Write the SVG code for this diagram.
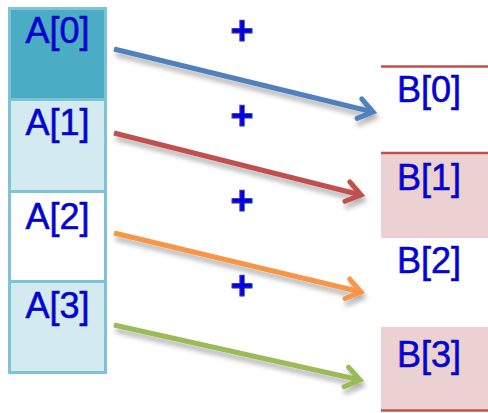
<svg xmlns="http://www.w3.org/2000/svg" width="488" height="413" viewBox="0 0 488 413">
<style>
.lbl{font-family:"Liberation Sans",Arial,sans-serif;font-size:36px;fill:#0000f0;stroke:#14147a;stroke-width:0.6}
.plus{font-family:"Liberation Sans",Arial,sans-serif;font-size:40px;font-weight:bold;fill:#0000f0;stroke:#3a3a7a;stroke-width:0.8;text-anchor:middle}
.cell{stroke:#7cc4d5;stroke-width:3}
.rline{stroke:#c0504d;stroke-width:2.5}
.arr{fill:none;stroke-width:5;filter:url(#sh)}
</style>
<defs>
<filter id="sh" x="-10%" y="-50%" width="120%" height="200%">
<feDropShadow dx="2" dy="5" stdDeviation="2.5" flood-color="#000" flood-opacity="0.3"/>
</filter>
<marker id="mb" markerUnits="userSpaceOnUse" viewBox="-20 -14 24 28" refX="0" refY="0" markerWidth="24" markerHeight="28" orient="auto"><path d="M-14,-10 L0,0 L-14,10" fill="none" stroke="#4f81bd" stroke-width="5" stroke-linecap="round"/></marker>
<marker id="mr" markerUnits="userSpaceOnUse" viewBox="-20 -14 24 28" refX="0" refY="0" markerWidth="24" markerHeight="28" orient="auto"><path d="M-14,-10 L0,0 L-14,10" fill="none" stroke="#c0504d" stroke-width="5" stroke-linecap="round"/></marker>
<marker id="mo" markerUnits="userSpaceOnUse" viewBox="-20 -14 24 28" refX="0" refY="0" markerWidth="24" markerHeight="28" orient="auto"><path d="M-14,-10 L0,0 L-14,10" fill="none" stroke="#f79646" stroke-width="5" stroke-linecap="round"/></marker>
<marker id="mg" markerUnits="userSpaceOnUse" viewBox="-20 -14 24 28" refX="0" refY="0" markerWidth="24" markerHeight="28" orient="auto"><path d="M-14,-10 L0,0 L-14,10" fill="none" stroke="#9bbb59" stroke-width="5" stroke-linecap="round"/></marker>
</defs>
<rect width="488" height="413" fill="#fff"/>
<g id="A0"><rect class="cell" x="9.5" y="8.5" width="96" height="91" fill="#4bacc6"/><text class="lbl" x="57.5" y="43" text-anchor="middle">A[0]</text></g>
<g id="A1"><rect class="cell" x="9.5" y="99.5" width="96" height="92" fill="#d3eaf1"/><text class="lbl" x="57.5" y="135" text-anchor="middle">A[1]</text></g>
<g id="A2"><rect class="cell" x="9.5" y="191.5" width="96" height="90" fill="#ffffff"/><text class="lbl" x="57.5" y="229" text-anchor="middle">A[2]</text></g>
<g id="A3"><rect class="cell" x="9.5" y="281.5" width="96" height="91" fill="#d3eaf1"/><text class="lbl" x="57.5" y="318" text-anchor="middle">A[3]</text></g>
<g id="B0"><line class="rline" x1="381" y1="66.5" x2="488" y2="66.5"/><text class="lbl" x="397" y="102">B[0]</text></g>
<g id="B1"><rect x="381" y="153" width="107" height="85" fill="#ecd1d2"/><line class="rline" x1="381" y1="153" x2="488" y2="153"/><text class="lbl" x="397" y="190">B[1]</text></g>
<g id="B2"><text class="lbl" x="397" y="273">B[2]</text></g>
<g id="B3"><rect x="381" y="327" width="107" height="84" fill="#ecd1d2"/><line class="rline" x1="381" y1="410.5" x2="488" y2="410.5"/><text class="lbl" x="397" y="367">B[3]</text></g>
<g id="plus"><text class="plus" x="242" y="44">+</text><text class="plus" x="242" y="129">+</text><text class="plus" x="242" y="214">+</text><text class="plus" x="242" y="299">+</text></g>
<g id="connectors">
<line class="arr" x1="114" y1="49" x2="373" y2="112" stroke="#4f81bd" marker-end="url(#mb)"/>
<line class="arr" x1="114" y1="133" x2="361" y2="195" stroke="#c0504d" marker-end="url(#mr)"/>
<line class="arr" x1="114" y1="233" x2="361" y2="292" stroke="#f79646" marker-end="url(#mo)"/>
<line class="arr" x1="114" y1="325" x2="360" y2="380" stroke="#9bbb59" marker-end="url(#mg)"/>
</g>
</svg>
